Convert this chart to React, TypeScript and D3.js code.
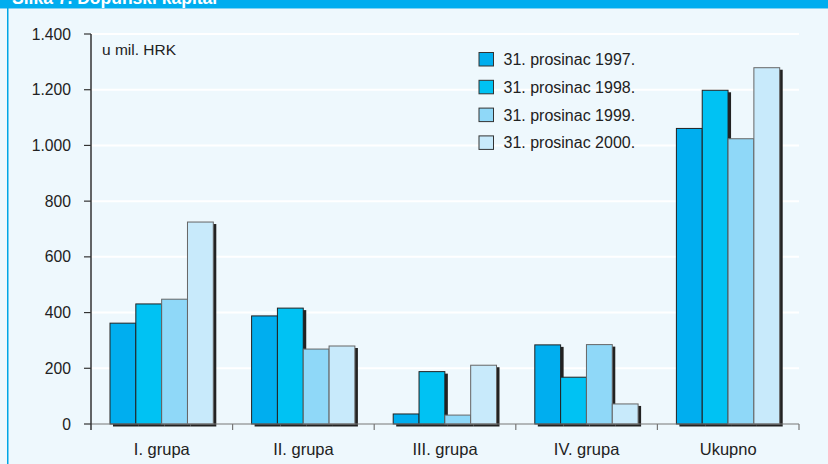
import React from "react";
import * as d3 from "d3";

const categories = ["I. grupa", "II. grupa", "III. grupa", "IV. grupa", "Ukupno"];
const seriesNames = ["31. prosinac 1997.", "31. prosinac 1998.", "31. prosinac 1999.", "31. prosinac 2000."];
const s1997 = [362, 388, 36, 284, 1061];
const s1998 = [431, 416, 188, 168, 1198];
const s1999 = [448, 269, 32, 285, 1024];
const s2000 = [725, 280, 211, 72, 1279];
const yTicks = [0, 200, 400, 600, 800, 1000, 1200, 1400];
const tickLabels = ["0", "200", "400", "600", "800", "1.000", "1.200", "1.400"];

const colors = ["#00aeef", "#00c2f3", "#8fd8f8", "#c8eafb"];
const strokes = ["#222", "#222", "#666", "#666"];

export default function App() {
  const W = 828, H = 464;
  const series = [s1997, s1998, s1999, s2000];
  const y = d3.scaleLinear().domain([0, 1400]).range([424, 34]);
  const x0 = d3.scaleBand<string>().domain(categories).range([91, 799]).paddingInner(0).paddingOuter(0);
  const x1 = d3.scaleBand<number>().domain([0, 1, 2, 3]).range([19, 122.3]).padding(0);
  const font = "'Liberation Sans', Arial, Helvetica, sans-serif";
  return (
    <svg width={W} height={H} style={{ position: "absolute", left: 0, top: 0 }} fontFamily={font}>
      <rect x={0} y={0} width={W} height={H} fill="#eef8fd" />
      <rect x={0} y={0} width={W} height={8} fill="#00adef" />
      <rect x={0} y={8} width={W} height={1} fill="#7fd3f5" />
      <text x={12} y={4} fill="#fff" fontWeight="bold" fontSize={17.5}>Slika 7. Dopunski kapital</text>
      <rect x={7} y={8} width={1.5} height={H - 8} fill="#00a6e6" />
      {yTicks.slice(1).map((t) => (
        <line key={t} x1={91} x2={799} y1={y(t)} y2={y(t)} stroke="#fff" strokeWidth={2} />
      ))}
      {/* legend */}
      {seriesNames.map((n, i) => (
        <g key={n} transform={`translate(479,${52.5 + i * 27.8})`}>
          <rect x={0} y={0} width={14.5} height={13.5} fill={colors[i]} stroke="#333" strokeWidth={1} />
          <text x={24.5} y={12.5} fontSize={16} fill="#222">{n}</text>
        </g>
      ))}
      <text x={102} y={55} fontSize={15.5} fill="#222">u mil. HRK</text>
      {/* bars */}
      {categories.map((c, ci) => (
        <g key={c} transform={`translate(${x0(c)},0)`}>
          {series.map((s, si) => {
            const bx = x1(si)!;
            const bw = x1.bandwidth();
            const top = y(s[ci]);
            return (
              <g key={si}>
                <rect x={bx + 3} y={top + 2} width={bw} height={y(0) - top + 0.5} fill="#222" />
                <rect x={bx} y={top} width={bw} height={y(0) - top} fill={colors[si]} stroke={strokes[si]} strokeWidth={1} />
              </g>
            );
          })}
        </g>
      ))}
      {/* x axis */}
      <line x1={91} x2={799} y1={424} y2={424} stroke="#777" strokeWidth={1.2} />
      {categories.map((c) => (
        <line key={c} x1={x0(c)! + x0.bandwidth()} x2={x0(c)! + x0.bandwidth()} y1={424} y2={430} stroke="#777" strokeWidth={1.2} />
      ))}
      {categories.map((c) => (
        <text key={c} x={x0(c)! + x0.bandwidth() / 2} y={455} fontSize={16.5} fill="#222" textAnchor="middle">{c}</text>
      ))}
      {/* y axis */}
      <line x1={91} x2={91} y1={34} y2={430} stroke="#333" strokeWidth={1.5} />
      {yTicks.map((t, i) => (
        <g key={t}>
          <line x1={84} x2={91} y1={y(t)} y2={y(t)} stroke="#333" strokeWidth={1.2} />
          <text x={71} y={y(t) + 5.5} fontSize={15.7} fill="#222" textAnchor="end">{tickLabels[i]}</text>
        </g>
      ))}
    </svg>
  );
}
